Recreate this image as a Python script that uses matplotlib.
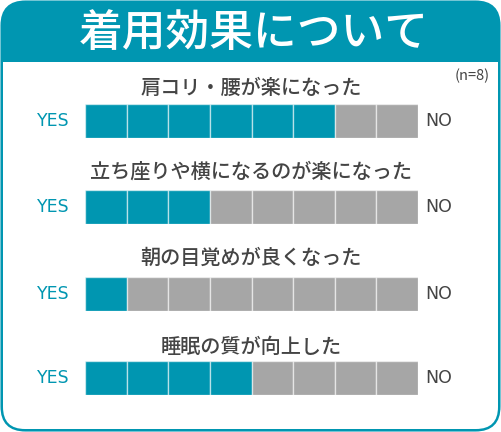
import matplotlib
matplotlib.use("Agg")
import matplotlib.pyplot as plt
from matplotlib.patches import FancyBboxPatch, Rectangle

# ---- data ----
title = "着用効果について"
questions = ["肩コリ・腰が楽になった",
             "立ち座りや横になるのが楽になった",
             "朝の目覚めが良くなった",
             "睡眠の質が向上した"]
yes_counts = [6, 3, 1, 4]
n_total = 8
yes_label = "YES"
no_label = "NO"
n_label = "(n=8)"

TEAL = "#0096b1"
GRAY = "#a6a6a6"
TXT = "#444444"
FONT = ["Noto Sans CJK JP", "DejaVu Sans"]
plt.rcParams["font.family"] = FONT

W, H = 501, 432
fig = plt.figure(figsize=(W / 100, H / 100), dpi=100)
fig.patch.set_facecolor("white")

# background axes in pixel coordinates for the frame
bg = fig.add_axes([0, 0, 1, 1])
bg.set_xlim(0, W)
bg.set_ylim(H, 0)
bg.axis("off")

outer = FancyBboxPatch((1.5, 1.5), W - 3, H - 3,
                       boxstyle="round,pad=0,rounding_size=24",
                       facecolor=TEAL, edgecolor=TEAL, linewidth=1.5)
bg.add_patch(outer)
inner = FancyBboxPatch((3, 62), W - 6, H - 62 - 3,
                       boxstyle="round,pad=0,rounding_size=22",
                       facecolor="white", edgecolor="none")
bg.add_patch(inner)
bg.add_patch(Rectangle((3, 62), W - 6, 30, facecolor="white", edgecolor="none"))

bg.text(254, 33, title, color="white", fontsize=31.5, fontweight="medium",
        ha="center", va="center")
bg.text(472, 76, n_label, color=TXT, fontsize=10.5, ha="center", va="center")

# row geometry (pixels)
bar_left, bar_right = 85, 418
row_tops = [104, 190, 277, 361]
bar_h = 33.5
title_y = [88, 172, 258, 347]

for q, yes, top, ty in zip(questions, yes_counts, row_tops, title_y):
    ax = fig.add_axes([bar_left / W, 1 - (top + bar_h) / H,
                       (bar_right - bar_left) / W, bar_h / H])
    ax.set_xlim(0, n_total)
    ax.set_ylim(0, 1)
    ax.axis("off")
    lefts = list(range(n_total))
    colors = [TEAL if i < yes else GRAY for i in lefts]
    ax.barh([0.5] * n_total, [1] * n_total, left=lefts, height=1.0,
            color=colors, edgecolor=(1, 1, 1, 0.55), linewidth=1.0)
    bg.text(251, ty, q, color=TXT, fontsize=14.5, fontweight="medium",
            ha="center", va="center")
    bg.text(53, top + bar_h / 2, yes_label, color=TEAL, fontsize=12.5,
            ha="center", va="center", family="DejaVu Sans")
    bg.text(425, top + bar_h / 2, no_label, color=TXT, fontsize=12.5,
            ha="left", va="center", family="DejaVu Sans")

fig.savefig("out.png", dpi=100)
